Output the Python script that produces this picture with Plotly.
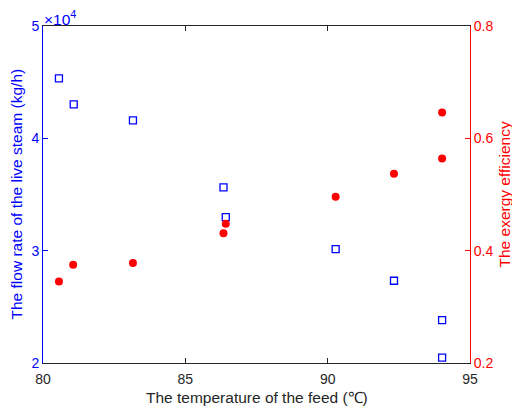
import plotly.graph_objects as go

# Data
feed_temp = [80.56, 81.08, 83.16, 86.34, 86.42, 90.28, 92.33, 94.02, 94.02]
steam_flow = [45330, 43020, 41600, 35640, 32980, 30130, 27320, 23820, 20470]  # kg/h

eff_temp = [80.56, 81.06, 83.16, 86.34, 86.42, 90.28, 92.33, 94.02, 94.02]
exergy_eff = [0.345, 0.375, 0.378, 0.431, 0.448, 0.496, 0.537, 0.564, 0.646]

x_ticks = [80, 85, 90, 95]
left_tickvals = [20000, 30000, 40000, 50000]
left_ticktext = ["2", "3", "4", "5"]
right_ticks = [0.2, 0.4, 0.6, 0.8]

x_title = "The temperature of the feed (℃)"
left_title = "The flow rate of the live steam (kg/h)"
right_title = "The exergy efficiency"

BLUE = "#0000FF"
RED = "#FF0000"
DARK = "#262626"
FONT = "Liberation Sans, Arial, sans-serif"
FS = 14
TS = 15.5

fig = go.Figure()
fig.add_trace(go.Scatter(
    x=feed_temp, y=steam_flow, mode="markers",
    marker=dict(symbol="square-open", size=7, color=BLUE, line=dict(width=1.3, color=BLUE)),
    yaxis="y", showlegend=False))
fig.add_trace(go.Scatter(
    x=eff_temp, y=exergy_eff, mode="markers",
    marker=dict(symbol="circle", size=8, color=RED),
    yaxis="y2", showlegend=False))

# page body has an 8px margin, so the figure is sized to fit the 520x410 window
fig.update_layout(
    width=512, height=402,
    margin=dict(l=35, r=49.5, t=18, b=46.5, autoexpand=False),
    paper_bgcolor="white", plot_bgcolor="white",
    font=dict(family=FONT, size=FS, color=DARK),
    xaxis=dict(
        range=[80, 95], tickvals=x_ticks, ticks="inside", ticklen=5,
        tickcolor=DARK, showline=True, linecolor=DARK, linewidth=1,
        mirror="ticks", showgrid=False, zeroline=False, automargin=False,
        ticklabelstandoff=3,
        tickfont=dict(size=FS, color=DARK),
    ),
    yaxis=dict(
        range=[20000, 50000], tickvals=left_tickvals, ticktext=left_ticktext,
        ticks="inside", ticklen=5, tickcolor=BLUE, showline=True, linecolor=BLUE, linewidth=1,
        showgrid=False, zeroline=False, automargin=False, tickfont=dict(size=FS, color=BLUE),
    ),
    yaxis2=dict(
        range=[0.2, 0.8], tickvals=right_ticks, ticktext=["0.2", "0.4", "0.6", "0.8"],
        overlaying="y", side="right",
        ticks="inside", ticklen=5, tickcolor=RED, showline=True, linecolor=RED, linewidth=1,
        showgrid=False, zeroline=False, automargin=False, tickfont=dict(size=FS, color=RED),
    ),
    annotations=[
        dict(text="×10<sup>4</sup>", xref="paper", yref="paper", x=0, y=1,
             xanchor="left", yanchor="bottom", showarrow=False,
             font=dict(size=TS, color=BLUE), xshift=-1, yshift=-4),
        dict(text=x_title, xref="paper", yref="paper", x=0.5, y=0,
             xanchor="center", yanchor="middle", showarrow=False,
             font=dict(size=TS, color=DARK), yshift=-34),
        dict(text=left_title, xref="paper", yref="paper", x=0, y=0.5,
             xanchor="center", yanchor="middle", textangle=-90, showarrow=False,
             font=dict(size=TS, color=BLUE), xshift=-27),
        dict(text=right_title, xref="paper", yref="paper", x=1, y=0.5,
             xanchor="center", yanchor="middle", textangle=-90, showarrow=False,
             font=dict(size=TS, color=RED), xshift=34),
    ],
)

fig.write_html("out.html")
